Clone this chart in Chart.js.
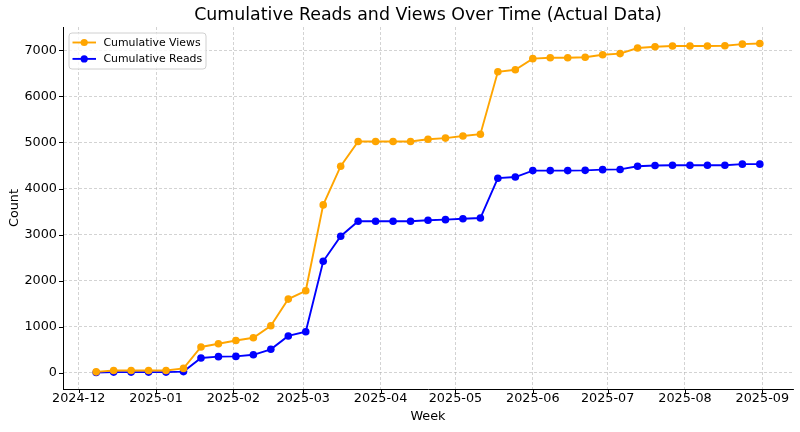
<!DOCTYPE html>
<html>
<head>
<meta charset="utf-8">
<script src="https://cdn.jsdelivr.net/npm/chart.js@4.4.1/dist/chart.umd.min.js"></script>
<style>
    html, body { margin: 0; padding: 0; background: #fff; }
    #myChart { display: block; }
</style>
</head>
<body>
<canvas id="myChart" width="800" height="432"></canvas>
<script>
var weeks = [
    "2024-12-08", "2024-12-15", "2024-12-22", "2024-12-29", "2025-01-05", "2025-01-12",
    "2025-01-19", "2025-01-26", "2025-02-02", "2025-02-09", "2025-02-16", "2025-02-23",
    "2025-03-02", "2025-03-09", "2025-03-16", "2025-03-23", "2025-03-30", "2025-04-06",
    "2025-04-13", "2025-04-20", "2025-04-27", "2025-05-04", "2025-05-11", "2025-05-18",
    "2025-05-25", "2025-06-01", "2025-06-08", "2025-06-15", "2025-06-22", "2025-06-29",
    "2025-07-06", "2025-07-13", "2025-07-20", "2025-07-27", "2025-08-03", "2025-08-10",
    "2025-08-17", "2025-08-24", "2025-08-31"
];
var views = [
    20, 50, 50, 50, 50, 95, 560, 630, 700, 760, 1020, 1600, 1780,
    3645, 4485, 5020, 5020, 5020, 5020, 5070, 5095, 5140, 5180, 6535,
    6580, 6820, 6840, 6840, 6850, 6905, 6930, 7050, 7080, 7095, 7095,
    7095, 7100, 7135, 7150
];
var reads = [
    5, 15, 15, 15, 15, 25, 320, 350, 355, 390, 510, 800, 890,
    2420, 2965, 3290, 3290, 3290, 3290, 3310, 3325, 3345, 3360, 4225,
    4250, 4390, 4390, 4390, 4395, 4410, 4415, 4485, 4500, 4505, 4505,
    4505, 4505, 4530, 4530
];
var xTickLabels = ["2024-12", "2025-01", "2025-02", "2025-03", "2025-04", "2025-05", "2025-06", "2025-07", "2025-08", "2025-09"];
var yTicks = [0, 1000, 2000, 3000, 4000, 5000, 6000, 7000];

var FONT = "'DejaVu Sans', sans-serif";

function toTime(s) {
    var p = s.split("-").map(Number);
    return Date.UTC(p[0], p[1] - 1, p[2] || 1);
}
function monthLabel(t) {
    var d = new Date(t);
    var m = d.getUTCMonth() + 1;
    return d.getUTCFullYear() + "-" + (m < 10 ? "0" + m : m);
}

var times = weeks.map(toTime);
var xPad = (times[times.length - 1] - times[0]) * 0.05;
var allY = views.concat(reads);
var yLo = Math.min.apply(null, allY), yHi = Math.max.apply(null, allY);
var yPad = (yHi - yLo) * 0.05;

// matplotlib style tick marks + legend box inside the axes
var mplExtras = {
    id: "mplExtras",
    afterDraw: function (chart) {
        var ctx = chart.ctx, area = chart.chartArea;
        ctx.save();
        ctx.strokeStyle = "#000";
        ctx.lineWidth = 1;
        chart.scales.x.ticks.forEach(function (t) {
            var px = Math.round(chart.scales.x.getPixelForValue(t.value)) + 0.5;
            ctx.beginPath();
            ctx.moveTo(px, area.bottom);
            ctx.lineTo(px, area.bottom + 4);
            ctx.stroke();
        });
        chart.scales.y.ticks.forEach(function (t) {
            var py = Math.round(chart.scales.y.getPixelForValue(t.value)) + 0.5;
            ctx.beginPath();
            ctx.moveTo(area.left, py);
            ctx.lineTo(area.left - 4, py);
            ctx.stroke();
        });

        // legend
        var bx = area.left + 6, by = area.top + 6, bw = 137, bh = 36;
        ctx.beginPath();
        ctx.roundRect(bx, by, bw, bh, 3);
        ctx.fillStyle = "rgba(255,255,255,0.8)";
        ctx.fill();
        ctx.strokeStyle = "#d0d0d0";
        ctx.stroke();
        ctx.font = "10.9px " + FONT;
        ctx.textBaseline = "middle";
        chart.data.datasets.forEach(function (ds, i) {
            var cy = by + 9.5 + i * 16.4;
            ctx.strokeStyle = ds.borderColor;
            ctx.lineWidth = 1.9;
            ctx.beginPath();
            ctx.moveTo(bx + 3.5, cy);
            ctx.lineTo(bx + 27, cy);
            ctx.stroke();
            ctx.fillStyle = ds.borderColor;
            ctx.beginPath();
            ctx.arc(bx + 15.2, cy, 3.6, 0, Math.PI * 2);
            ctx.fill();
            ctx.fillStyle = "#000";
            ctx.fillText(ds.label, bx + 34.5, cy + 0.5);
        });
        ctx.restore();
    }
};

new Chart("myChart", {
    type: "line",
    data: {
        datasets: [
            {
                label: "Cumulative Views",
                data: times.map(function (t, i) { return { x: t, y: views[i] }; }),
                borderColor: "#FFA500",
                backgroundColor: "#FFA500",
                borderWidth: 1.9,
                pointRadius: 3.8,
                pointBorderWidth: 0,
                tension: 0,
            },
            {
                label: "Cumulative Reads",
                data: times.map(function (t, i) { return { x: t, y: reads[i] }; }),
                borderColor: "#0000FF",
                backgroundColor: "#0000FF",
                borderWidth: 1.9,
                pointRadius: 3.8,
                pointBorderWidth: 0,
                tension: 0,
            },
        ],
    },
    options: {
        responsive: false,
        animation: false,
        events: [],
        layout: { padding: { left: 0, right: 7, top: 0, bottom: 0 } },
        scales: {
            x: {
                type: "linear",
                min: times[0] - xPad,
                max: times[times.length - 1] + xPad,
                afterBuildTicks: function (scale) {
                    scale.ticks = xTickLabels.map(function (s) { return { value: toTime(s) }; });
                },
                afterFit: function (scale) { scale.height = 43; },
                ticks: {
                    callback: function (v) { return monthLabel(v); },
                    color: "#000",
                    font: { family: FONT, size: 12.8 },
                    padding: -2,
                    maxRotation: 0,
                    autoSkip: false,
                },
                grid: {
                    color: "rgba(176,176,176,0.7)",
                    lineWidth: 0.8,
                    tickLength: 4,
                    tickColor: "rgba(0,0,0,0)",
                },
                border: { display: true, color: "#000", width: 1, dash: [3, 2] },
                title: {
                    display: true,
                    text: "Week",
                    color: "#000",
                    font: { family: FONT, size: 12.8 },
                    padding: { top: 0, bottom: 7.5 },
                },
            },
            y: {
                min: yLo - yPad,
                max: yHi + yPad,
                afterBuildTicks: function (scale) {
                    scale.ticks = yTicks.map(function (v) { return { value: v }; });
                },
                afterFit: function (scale) { scale.width = 63; },
                ticks: {
                    callback: function (v) { return String(v); },
                    color: "#000",
                    font: { family: FONT, size: 12.8 },
                    padding: 2,
                },
                grid: {
                    color: "rgba(176,176,176,0.7)",
                    lineWidth: 0.8,
                    tickLength: 4,
                    tickColor: "rgba(0,0,0,0)",
                },
                border: { display: true, color: "#000", width: 1, dash: [3, 2] },
                title: {
                    display: true,
                    text: "Count",
                    color: "#000",
                    font: { family: FONT, size: 12.8 },
                    padding: { top: 7, bottom: 0 },
                },
            },
        },
        plugins: {
            legend: { display: false },
            tooltip: { enabled: false },
            title: {
                display: true,
                fullSize: false,
                text: "Cumulative Reads and Views Over Time (Actual Data)",
                color: "#000",
                font: { family: FONT, size: 17.4, weight: "normal" },
                padding: { top: 4.6, bottom: 1.52 },
            },
        },
    },
    plugins: [mplExtras],
});
</script>
</body>
</html>
